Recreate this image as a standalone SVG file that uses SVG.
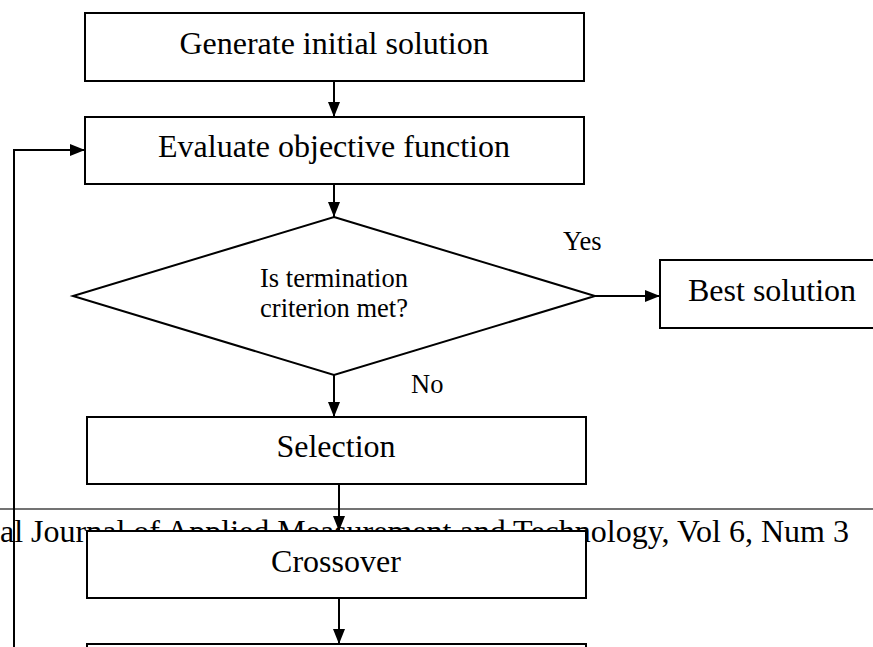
<svg xmlns="http://www.w3.org/2000/svg" width="873" height="647" viewBox="0 0 873 647">
<defs>
<marker id="arr" markerUnits="userSpaceOnUse" markerWidth="15" markerHeight="12" refX="15" refY="6" orient="auto">
<path d="M0,0 L15,6 L0,12 z" fill="#000"/>
</marker>
<style>
.box{fill:#fff;stroke:#000;stroke-width:2}
.t{font-family:"Liberation Serif","Times New Roman",serif;font-size:32px;fill:#000}
.s{font-family:"Liberation Serif","Times New Roman",serif;font-size:26.5px;fill:#000}
.c{stroke:#000;stroke-width:2;fill:none;marker-end:url(#arr)}
</style>
</defs>
<rect width="873" height="647" fill="#fff"/>
<g id="page-header">
<line x1="0" y1="509" x2="873" y2="509" stroke="#444" stroke-width="1.5"/>
<text class="t" x="0" y="542" font-size="31.6">al Journal of Applied Measurement and Technology, Vol 6, Num 3</text>
</g>
<g id="connectors">
<path class="c" d="M334,81 V117"/>
<path class="c" d="M334,184 V217"/>
<path class="c" d="M595,296 H660"/>
<path class="c" d="M334,375 V417"/>
<path class="c" d="M339,484 V531"/>
<path class="c" d="M339,598 V644"/>
<path class="c" d="M14,647 V150 H85"/>
</g>
<g id="n-generate">
<rect class="box" x="85" y="13" width="499" height="68"/>
<text class="t" x="334" y="54" text-anchor="middle">Generate initial solution</text>
</g>
<g id="n-evaluate">
<rect class="box" x="85" y="117" width="499" height="67"/>
<text class="t" x="334" y="157" text-anchor="middle">Evaluate objective function</text>
</g>
<g id="n-decision">
<polygon class="box" points="334,217 595,296 334,375 73,296"/>
<text class="s" x="334" y="287" text-anchor="middle">Is termination</text>
<text class="s" x="334" y="317" text-anchor="middle">criterion met?</text>
</g>
<g id="n-best">
<rect class="box" x="660" y="260" width="230" height="68"/>
<text class="t" x="688" y="301">Best solution</text>
</g>
<g id="labels">
<text class="s" x="563" y="250">Yes</text>
<text class="s" x="411" y="393">No</text>
</g>
<g id="n-selection">
<rect class="box" x="87" y="417" width="499" height="67"/>
<text class="t" x="336" y="457" text-anchor="middle">Selection</text>
</g>
<g id="n-crossover">
<rect class="box" x="87" y="531" width="499" height="67"/>
<text class="t" x="336" y="572" text-anchor="middle">Crossover</text>
</g>
<g id="n-next">
<rect class="box" x="87" y="644" width="499" height="40"/>
</g>
</svg>
